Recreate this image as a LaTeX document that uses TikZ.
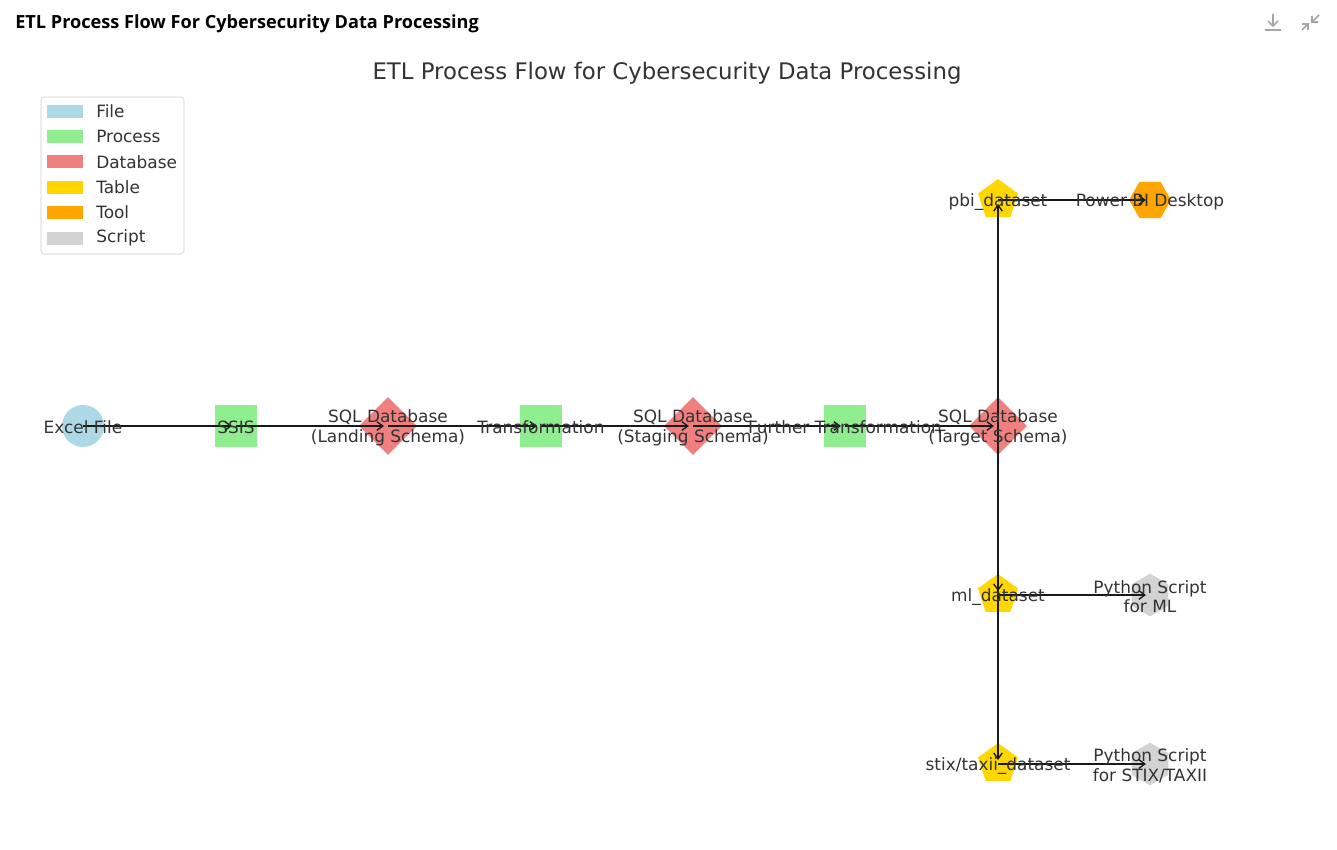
\documentclass[tikz,border=0pt]{standalone}
\usepackage{fontspec}
\setmainfont{DejaVu Sans}
\newfontfamily\headfont{Open Sans}
\usetikzlibrary{shapes.geometric,arrows.meta}
\definecolor{filec}{HTML}{ADD8E6}
\definecolor{procc}{HTML}{90EE90}
\definecolor{dbc}{HTML}{F08080}
\definecolor{tabc}{HTML}{FFD700}
\definecolor{toolc}{HTML}{FFA500}
\definecolor{scriptc}{HTML}{D3D3D3}
\definecolor{txtc}{HTML}{333333}
\begin{document}
\begin{tikzpicture}[x=0.75pt,y=-0.75pt,
    shp/.style={inner sep=0pt,draw=none},
    filenode/.style={shp,circle,fill=filec,minimum size=31.5pt},
    procnode/.style={shp,rectangle,fill=procc,minimum size=31.5pt},
    dbnode/.style={shp,diamond,fill=dbc,minimum size=43.5pt},
    tabnode/.style={shp,regular polygon,regular polygon sides=5,fill=tabc,minimum size=31.5pt},
    toolnode/.style={shp,regular polygon,regular polygon sides=6,fill=toolc,minimum size=31.5pt},
    scriptnode/.style={shp,regular polygon,regular polygon sides=6,shape border rotate=30,fill=scriptc,minimum size=32pt},
    lbl/.style={text=txtc,font=\fontsize{12.7}{14.8}\selectfont,align=center,inner sep=0pt},
    flow/.style={-{Straight Barb[length=4.5pt,width=6.5pt]},line width=1pt,shorten >=3pt,black!90},
    icon/.style={black!35,line width=1.3pt}
  ]
  \useasboundingbox[fill=white] (0,0) rectangle (1337,849);

  % header bar
  \node[anchor=west,inner sep=0pt,font=\headfont\bfseries\fontsize{13.6}{16}\selectfont] (head) at (15,24) {ETL Process Flow For Cybersecurity Data Processing};
  \draw[icon] (1273,14) -- (1273,26) (1268,21) -- (1273,26) -- (1278,21) (1265,30) -- (1281,30);
  \draw[icon] (1319,15) -- (1312,22) (1312,16) -- (1312,22) -- (1318,22);
  \draw[icon] (1302,30) -- (1308,24) (1302,24) -- (1308,24) -- (1308,30);

  \node[text=txtc,font=\fontsize{17.1}{20}\selectfont] (title) at (667,73) {ETL Process Flow for Cybersecurity Data Processing};

  % legend
  \draw[black!20,fill=white,rounded corners=2.5pt] (41,97) rectangle (184,254);
  \foreach \name/\col [count=\i] in {File/filec,Process/procc,Database/dbc,Table/tabc,Tool/toolc,Script/scriptc}{
    \fill[\col] (47,{111+(\i-1)*25.4-6.5}) rectangle (83,{111+(\i-1)*25.4+6.5});
    \node[lbl,anchor=west] (leg\i) at (96,{111+(\i-1)*25.4}) {\name};
  }

  % nodes
  \node[filenode] (excel) at (83,426) {};
  \node[procnode] (ssis) at (236,426) {};
  \node[dbnode] (landing) at (388,426) {};
  \node[procnode] (trans) at (541,426) {};
  \node[dbnode] (staging) at (693,426) {};
  \node[procnode] (ftrans) at (845,426) {};
  \node[dbnode] (target) at (998,426) {};
  \node[tabnode] (pbi) at (998,200) {};
  \node[toolnode] (pbid) at (1150,200) {};
  \node[tabnode] (ml) at (998,595) {};
  \node[scriptnode] (pyml) at (1150,595) {};
  \node[tabnode] (stix) at (998,764) {};
  \node[scriptnode] (pystix) at (1150,764) {};

  % edges
  \draw[flow] (excel.center) -- (ssis.center);
  \draw[flow] (ssis.center) -- (landing.center);
  \draw[flow] (landing.center) -- (trans.center);
  \draw[flow] (trans.center) -- (staging.center);
  \draw[flow] (staging.center) -- (ftrans.center);
  \draw[flow] (ftrans.center) -- (target.center);
  \draw[flow] (target.center) -- (pbi.center);
  \draw[flow] (target.center) -- (ml.center);
  \draw[flow] (target.center) -- (stix.center);
  \draw[flow] (pbi.center) -- (pbid.center);
  \draw[flow] (ml.center) -- (pyml.center);
  \draw[flow] (stix.center) -- (pystix.center);

  % labels
  \begin{scope}[every node/.append style={yshift=-1.2pt}]
  \node[lbl] at (excel) {Excel File};
  \node[lbl] at (ssis) {SSIS};
  \node[lbl] at (landing) {SQL Database\\(Landing Schema)};
  \node[lbl] at (trans) {Transformation};
  \node[lbl] at (staging) {SQL Database\\(Staging Schema)};
  \node[lbl] at (ftrans) {Further Transformation};
  \node[lbl] at (target) {SQL Database\\(Target Schema)};
  \node[lbl] at (pbi) {pbi\_dataset};
  \node[lbl] at (pbid) {Power BI Desktop};
  \node[lbl] at (ml) {ml\_dataset};
  \node[lbl] at (pyml) {Python Script\\for ML};
  \node[lbl] at (stix) {stix/taxii\_dataset};
  \node[lbl] at (pystix) {Python Script\\for STIX/TAXII};
  \end{scope}
\end{tikzpicture}
\end{document}
